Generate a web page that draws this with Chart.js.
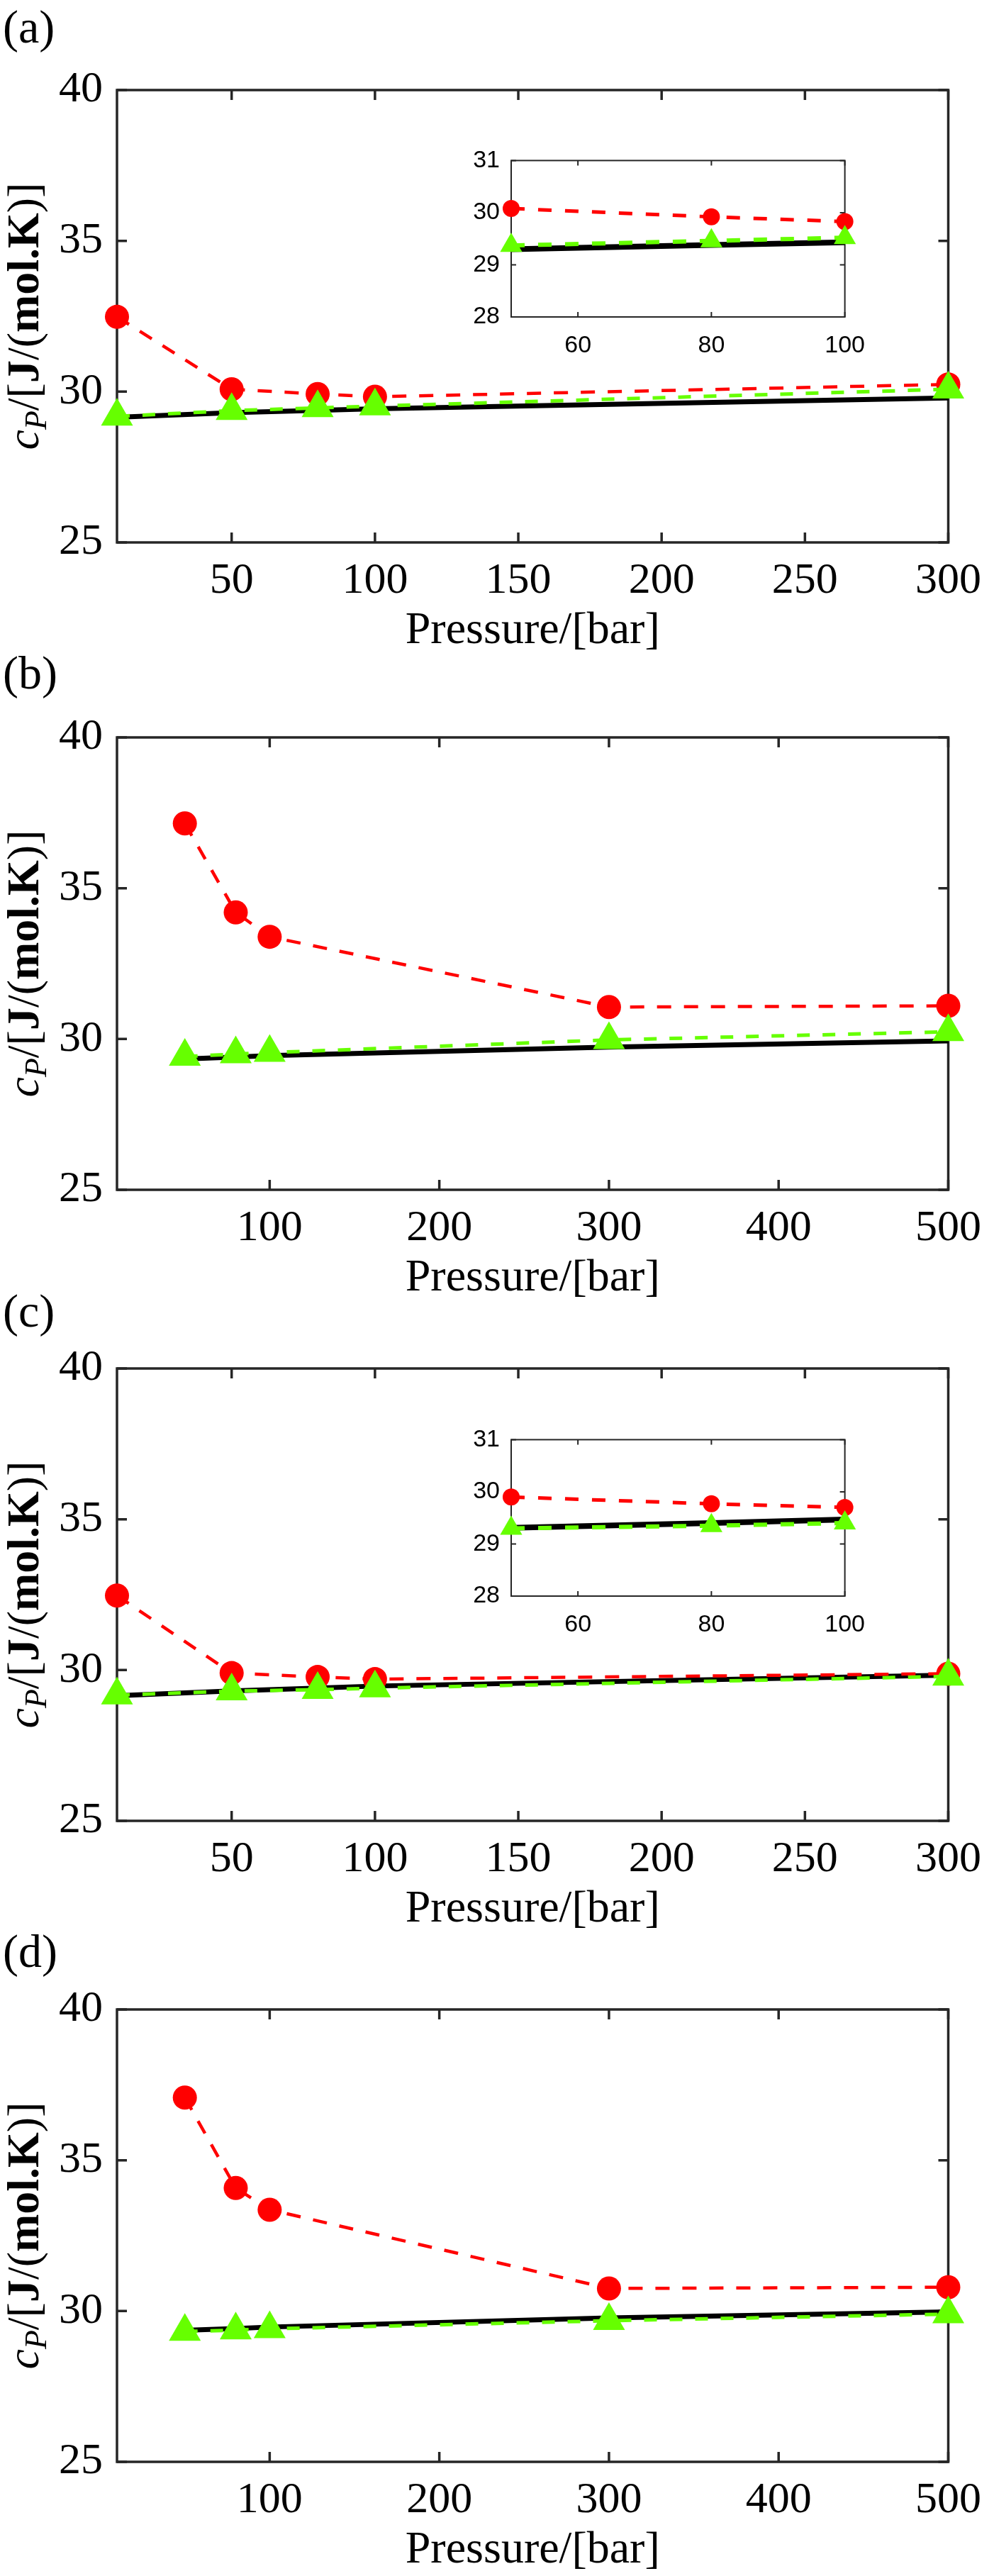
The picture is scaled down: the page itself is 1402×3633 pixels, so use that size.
<!DOCTYPE html>
<html>
<head>
<meta charset="utf-8">
<script src="https://cdn.jsdelivr.net/npm/chart.js@4.4.1/dist/chart.umd.min.js"></script>
<style>
  html, body { margin: 0; padding: 0; background: #fff; }
  body { width: 1402px; height: 3633px; position: relative; overflow: hidden; }
  canvas { position: absolute; }
</style>
</head>
<body>
<canvas id="panelA" width="1402" height="940" style="left:0;top:0"></canvas>
<canvas id="panelB" width="1402" height="940" style="left:0;top:913px"></canvas>
<canvas id="panelC" width="1402" height="940" style="left:0;top:1803px"></canvas>
<canvas id="panelD" width="1402" height="940" style="left:0;top:2707px"></canvas>
<canvas id="insetA" width="600" height="330" style="left:640px;top:190px"></canvas>
<canvas id="insetC" width="600" height="330" style="left:640px;top:1994px"></canvas>
<script>
// pressure in bar, cp in J/(mol.K)
const pressuresAC = [10, 50, 80, 100, 300];
const pressuresBD = [50, 80, 100, 300, 500];

const redA = [32.48, 30.08, 29.92, 29.83, 30.24];
const greenA = [29.18, 29.37, 29.46, 29.52, 30.08];
const blackA = [29.15, 29.30, 29.38, 29.43, 29.79];

const redB = [37.15, 34.20, 33.39, 31.06, 31.10];
const greenB = [29.42, 29.50, 29.55, 29.97, 30.24];
const blackB = [29.34, 29.40, 29.45, 29.73, 29.94];

const redC = [32.47, 29.90, 29.77, 29.70, 29.88];
const greenC = [29.17, 29.30, 29.35, 29.40, 29.79];
const blackC = [29.15, 29.31, 29.40, 29.47, 29.83];

const redD = [37.08, 34.08, 33.36, 30.75, 30.79];
const greenD = [29.32, 29.37, 29.41, 29.68, 29.90];
const blackD = [29.36, 29.42, 29.47, 29.77, 29.97];

const yTicksMain = [25, 30, 35, 40];
const xTicksAC = [50, 100, 150, 200, 250, 300];
const xTicksBD = [100, 200, 300, 400, 500];
const yTicksInset = [28, 29, 30, 31];
const xTicksInset = [60, 80, 100];

const RED = '#ff0000', GREEN = '#66ff00', BLACK = '#000000', AXIS = '#262626';
const SERIF = '"Liberation Serif", "Times New Roman", Times, serif';
const SANS = '"Liberation Sans", Arial, sans-serif';

function pts(xs, ys, lo, hi) {
  const out = [];
  xs.forEach((x, i) => {
    if (lo === undefined || (x >= lo && x <= hi)) out.push({x: x, y: ys[i]});
  });
  return out;
}

// box with inward ticks on all four sides, drawn under the data like MATLAB
const framePlugin = {
  id: 'frame',
  beforeDatasetsDraw(chart, args, opts) {
    const {ctx, chartArea: a, scales: {x, y}} = chart;
    ctx.save();
    ctx.strokeStyle = opts.color;
    ctx.lineWidth = opts.width;
    ctx.beginPath();
    x.ticks.forEach(t => {
      const px = x.getPixelForValue(t.value);
      ctx.moveTo(px, a.bottom); ctx.lineTo(px, a.bottom - opts.tick);
      ctx.moveTo(px, a.top); ctx.lineTo(px, a.top + opts.tick);
    });
    y.ticks.forEach(t => {
      const py = y.getPixelForValue(t.value);
      ctx.moveTo(a.left, py); ctx.lineTo(a.left + opts.tick, py);
      ctx.moveTo(a.right, py); ctx.lineTo(a.right - opts.tick, py);
    });
    ctx.stroke();
    ctx.lineJoin = 'miter';
    ctx.strokeRect(a.left, a.top, a.right - a.left, a.bottom - a.top);
    ctx.restore();
  }
};

// panel letter and the mixed-style y axis title
const labelsPlugin = {
  id: 'labels',
  afterDraw(chart, args, opts) {
    if (!opts.letter) return;
    const {ctx, chartArea: a} = chart;
    ctx.save();
    ctx.fillStyle = '#000';
    ctx.textBaseline = 'alphabetic';
    ctx.textAlign = 'left';
    ctx.font = '66px ' + SERIF;
    ctx.fillText(opts.letter, 4, opts.letterY);

    const segs = [
      {t: 'c', f: 'italic 64px ' + SERIF, dy: 0},
      {t: 'P', f: 'italic 44px ' + SERIF, dy: 11},
      {t: '/[', f: '64px ' + SERIF, dy: 0},
      {t: 'J', f: 'bold 64px ' + SERIF, dy: 0},
      {t: '/(', f: '64px ' + SERIF, dy: 0},
      {t: 'mol.K', f: 'bold 64px ' + SERIF, dy: 0},
      {t: ')]', f: '64px ' + SERIF, dy: 0}
    ];
    let total = 0;
    segs.forEach(s => { ctx.font = s.f; s.w = ctx.measureText(s.t).width; total += s.w; });
    ctx.translate(54, (a.top + a.bottom) / 2);
    ctx.rotate(-Math.PI / 2);
    let pos = -total / 2;
    segs.forEach(s => { ctx.font = s.f; ctx.fillText(s.t, pos, s.dy); pos += s.w; });
    ctx.restore();
  }
};

function mainChart(id, xs, red, green, black, xMax, xTicks, letter, letterY) {
  return new Chart(document.getElementById(id).getContext('2d'), {
    type: 'line',
    data: {
      datasets: [
        {label: 'black', data: pts(xs, black), borderColor: BLACK, borderWidth: 7,
         pointRadius: 0, order: 3, clip: false},
        {label: 'red', data: pts(xs, red), borderColor: RED, borderWidth: 4.5, borderDash: [20, 18],
         pointStyle: 'circle', pointRadius: 17, pointBackgroundColor: RED, pointBorderWidth: 0,
         order: 2, clip: false},
        {label: 'green', data: pts(xs, green), borderColor: GREEN, borderWidth: 5, borderDash: [18, 18],
         pointStyle: 'triangle', pointRadius: 26, pointBackgroundColor: GREEN, pointBorderWidth: 0,
         order: 1, clip: false}
      ]
    },
    options: {
      responsive: false,
      animation: false,
      events: [],
      layout: {padding: {top: 127, left: 0, right: 45, bottom: 11}},
      plugins: {
        legend: {display: false},
        tooltip: {enabled: false},
        frame: {color: AXIS, width: 3.5, tick: 14},
        labels: {letter: letter, letterY: letterY}
      },
      scales: {
        x: {
          type: 'linear', min: 10, max: xMax,
          afterBuildTicks: s => { s.ticks = xTicks.map(v => ({value: v})); },
          afterFit: s => { s.height = 164; },
          grid: {display: false, drawTicks: false},
          border: {display: false},
          ticks: {font: {family: SERIF, size: 62}, color: '#000', padding: 18, maxRotation: 0, autoSkip: false},
          title: {display: true, text: 'Pressure/[bar]', font: {family: SERIF, size: 64}, color: '#000', padding: 0}
        },
        y: {
          type: 'linear', min: 25, max: 40,
          afterBuildTicks: s => { s.ticks = yTicksMain.map(v => ({value: v})); },
          afterFit: s => { s.width = 165; },
          grid: {display: false, drawTicks: false},
          border: {display: false},
          ticks: {font: {family: SERIF, size: 62}, color: '#000', padding: 20}
        }
      }
    },
    plugins: [framePlugin, labelsPlugin]
  });
}

function insetChart(id, xs, red, green, black) {
  return new Chart(document.getElementById(id).getContext('2d'), {
    type: 'line',
    data: {
      datasets: [
        {label: 'black', data: pts(xs, black, 50, 100), borderColor: BLACK, borderWidth: 8,
         pointRadius: 0, order: 3, clip: false},
        {label: 'red', data: pts(xs, red, 50, 100), borderColor: RED, borderWidth: 5, borderDash: [19, 19],
         pointStyle: 'circle', pointRadius: 12, pointBackgroundColor: RED, pointBorderWidth: 0,
         order: 2, clip: false},
        {label: 'green', data: pts(xs, green, 50, 100), borderColor: GREEN, borderWidth: 6, borderDash: [19, 19],
         pointStyle: 'triangle', pointRadius: 18, pointBackgroundColor: GREEN, pointBorderWidth: 0,
         order: 1, clip: false}
      ]
    },
    options: {
      responsive: false,
      animation: false,
      events: [],
      layout: {padding: {top: 33, left: 0, right: 41, bottom: 0}},
      plugins: {
        legend: {display: false},
        tooltip: {enabled: false},
        frame: {color: AXIS, width: 2, tick: 7},
        labels: {}
      },
      scales: {
        x: {
          type: 'linear', min: 50, max: 100,
          afterBuildTicks: s => { s.ticks = xTicksInset.map(v => ({value: v})); },
          afterFit: s => { s.height = 73; },
          grid: {display: false, drawTicks: false},
          border: {display: false},
          ticks: {font: {family: SANS, size: 34}, color: '#000', padding: 20, maxRotation: 0, autoSkip: false}
        },
        y: {
          type: 'linear', min: 28, max: 31,
          afterBuildTicks: s => { s.ticks = yTicksInset.map(v => ({value: v})); },
          afterFit: s => { s.width = 81; },
          grid: {display: false, drawTicks: false},
          border: {display: false},
          ticks: {font: {family: SANS, size: 34}, color: '#000', padding: 16}
        }
      }
    },
    plugins: [framePlugin, labelsPlugin]
  });
}

mainChart('panelA', pressuresAC, redA, greenA, blackA, 300, xTicksAC, '(a)', 60);
mainChart('panelB', pressuresBD, redB, greenB, blackB, 500, xTicksBD, '(b)', 58);
mainChart('panelC', pressuresAC, redC, greenC, blackC, 300, xTicksAC, '(c)', 68);
mainChart('panelD', pressuresBD, redD, greenD, blackD, 500, xTicksBD, '(d)', 67);
insetChart('insetA', pressuresAC, redA, greenA, blackA);
insetChart('insetC', pressuresAC, redC, greenC, blackC);
</script>
</body>
</html>
